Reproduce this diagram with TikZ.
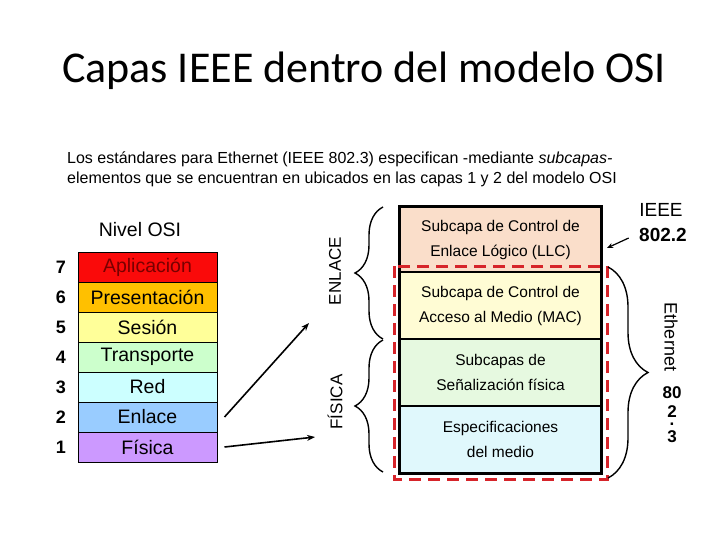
\documentclass[tikz,border=0pt]{standalone}
\usepackage{fontspec}
\setmainfont{Liberation Sans}
\newfontfamily\titlefont{Carlito}
\usepackage{xcolor}
\definecolor{osired}{RGB}{250,10,10}
\definecolor{osimaroon}{RGB}{120,0,0}
\definecolor{osiorange}{RGB}{255,192,0}
\definecolor{osiyellow}{RGB}{255,255,153}
\definecolor{osigreen}{RGB}{204,255,204}
\definecolor{osicyan}{RGB}{204,255,255}
\definecolor{osiblue}{RGB}{153,204,255}
\definecolor{osiviolet}{RGB}{204,153,255}
\definecolor{subpeach}{RGB}{250,222,202}
\definecolor{subyellow}{RGB}{255,252,212}
\definecolor{subgreen}{RGB}{230,249,224}
\definecolor{subcyan}{RGB}{224,248,252}
\definecolor{ethred}{RGB}{214,36,42}
\usepackage{tikz}
\usetikzlibrary{arrows.meta, positioning, decorations.pathreplacing}

\tikzset{
  osibox/.style={draw=black, line width=1pt, minimum width=139pt, minimum height=30pt,
                 inner sep=0pt, font=\fontsize{19.5}{22}\selectfont},
  osinum/.style={font=\fontsize{18}{20}\selectfont\bfseries},
  subbox/.style={draw=black, line width=1.5pt, minimum width=201pt, inner sep=0pt,
                 align=center, font=\fontsize{15.5}{25}\selectfont},
  sidebrace/.style={decorate, decoration={brace, amplitude=#1}, line width=1.4pt},
  sidebrace/.default=28pt,
  linkarrow/.style={-{Stealth[length=8pt,width=6pt]}, line width=1.6pt},
}

\begin{document}
\begin{tikzpicture}[x=1pt, y=1pt]
\useasboundingbox[fill=white] (0,0) rectangle (728,-546);

% --- Title and intro text ---
\node[font=\titlefont\fontsize{44}{50}\selectfont, anchor=base] (title) at (364,-82) {Capas IEEE dentro del modelo OSI};
\node[font=\fontsize{16}{20}\selectfont, anchor=base west, inner sep=0pt] (intro1) at (67,-163)
     {Los estándares para Ethernet (IEEE 802.3) especifican -mediante \textit{subcapas-}};
\node[font=\fontsize{16}{20}\selectfont, anchor=base west, inner sep=0pt] (intro2) at (67,-183)
     {elementos que se encuentran en ubicados en las capas 1 y 2 del modelo OSI};

% --- OSI stack (left) ---
\node[font=\fontsize{19.5}{22}\selectfont] (osititle) at (140,-230) {Nivel OSI};

\node[osibox, fill=osired, text=osimaroon] (app) at (147.5,-267) {Aplicación};
\node[osibox, fill=osiorange] (pres) at (147.5,-297) {Presentación};
\node[osibox, fill=osiyellow] (ses) at (147.5,-327) {Sesión};
\node[osibox, fill=osigreen] (trans) at (147.5,-357) {Transporte};
\node[osibox, fill=osicyan] (red) at (147.5,-387) {Red};
\node[osibox, fill=osiblue] (enl) at (147.5,-417) {Enlace};
\node[osibox, fill=osiviolet] (fis) at (147.5,-447) {Física};

\node[osinum] (n7) at (61,-267) {7};
\node[osinum] (n6) at (61,-297) {6};
\node[osinum] (n5) at (61,-327) {5};
\node[osinum] (n4) at (61,-357) {4};
\node[osinum] (n3) at (61,-387) {3};
\node[osinum] (n2) at (61,-417) {2};
\node[osinum] (n1) at (61,-447) {1};

% Arrows to the sublayers
\coordinate (enlTip) at (309,-323);
\coordinate (fisTip) at (315,-437);
\draw[linkarrow] ([xshift=7pt]enl.east) -- (enlTip);
\draw[linkarrow] ([xshift=7pt]fis.east) -- (fisTip);

% --- IEEE sublayers (right) ---
\node[subbox, fill=subpeach, minimum height=65pt] (llc) at (500.5,-239.5) {Subcapa de Control de\\Enlace Lógico (LLC)};
\node[subbox, fill=subyellow, minimum height=67pt] (mac) at (500.5,-305.5) {Subcapa de Control de\\Acceso al Medio (MAC)};
\node[subbox, fill=subgreen, minimum height=67pt] (sen) at (500.5,-372.5) {Subcapas de\\Señalización física};
\node[subbox, fill=subcyan, minimum height=67pt] (med) at (500.5,-439.5) {Especificaciones\\del medio};
\draw[line width=2.5pt] (llc.north west) rectangle (med.south east);

% Ethernet dashed frame
\draw[ethred, line width=3pt, dash pattern=on 12pt off 7pt] (394,-266) rectangle (607,-479);

% Braces ENLACE / FISICA
\draw[sidebrace] (383,-339) -- (383,-207);
\draw[sidebrace] (383,-472) -- (383,-340);
\node[rotate=90, font=\fontsize{17}{20}\selectfont] (enlacelbl) at (335,-271) {ENLACE};
\node[rotate=90, font=\fontsize{17}{20}\selectfont] (fisicalbl) at (335,-402) {FÍSICA};

% IEEE 802.2 label
\node[font=\fontsize{19}{20}\selectfont] (ieee1) at (661,-210) {IEEE};
\node[font=\fontsize{19}{20}\selectfont\bfseries] (ieee2) at (663,-235) {802.2};
\coordinate (llcTip) at (607,-248);
\draw[-{Stealth[length=6pt,width=5pt]}, line width=1.2pt] ([xshift=-7pt,yshift=-3pt]ieee2.west) -- (llcTip);

% Ethernet 802.3 brace
\draw[sidebrace=40pt] (608,-267) -- (608,-478);
\node[rotate=-90, font=\fontsize{18}{20}\selectfont] (ethlbl) at (671,-337) {Ethernet};
\node[font=\fontsize{17}{20}\selectfont\bfseries, align=center, inner sep=0pt, anchor=north] (ethnum) at (672,-386)
     {80\\[-1pt]2\\[-12pt].\\[-3pt]3};

\end{tikzpicture}
\end{document}
